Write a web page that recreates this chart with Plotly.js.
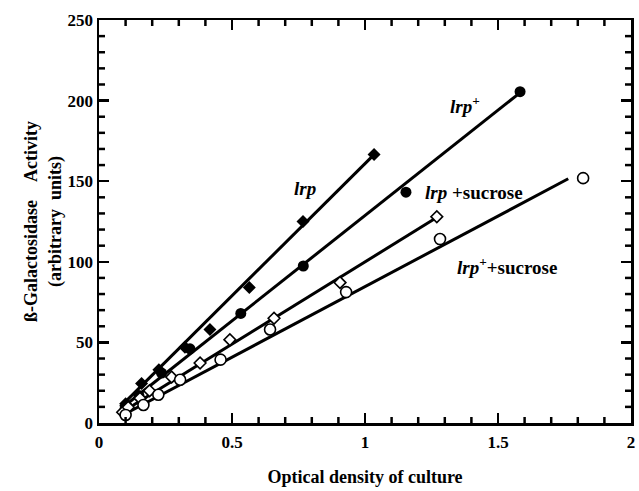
<!DOCTYPE html>
<html>
<head>
<meta charset="utf-8">
<script src="https://cdn.plot.ly/plotly-3.0.1.min.js"></script>
<style>html,body{margin:0;padding:0;background:#fff;}#chart{width:639px;height:491px;}</style>
</head>
<body>
<div id="chart"></div>
<script>
// lrp (filled diamonds)
const lrpX = [0.10, 0.16, 0.225, 0.323, 0.417, 0.565, 0.767, 1.034];
const lrpY = [12, 24.5, 33, 47, 58, 84, 125, 166.5];
// lrp+ (filled circles)
const lrpPlusX = [0.10, 0.15, 0.235, 0.342, 0.533, 0.768, 1.154, 1.583];
const lrpPlusY = [9, 17, 31, 46, 68, 97.4, 143.2, 205.5];
// lrp + sucrose (open diamonds)
const lrpSucX = [0.089, 0.11, 0.154, 0.19, 0.273, 0.38, 0.492, 0.658, 0.906, 1.27];
const lrpSucY = [6.7, 9.8, 15.4, 20, 28.5, 37.2, 51.7, 65, 87.1, 128];
// lrp+ + sucrose (open circles)
const lrpPlusSucX = [0.10, 0.167, 0.223, 0.305, 0.457, 0.643, 0.929, 1.282, 1.82];
const lrpPlusSucY = [5, 11.2, 17.5, 26.8, 39.3, 58, 81.2, 114.1, 151.9];
// fitted lines (end points)
const lrpFitX = [0.08, 1.034];
const lrpFitY = [10, 166.5];
const lrpPlusFitX = [0.08, 1.58];
const lrpPlusFitY = [8.5, 204.5];
const lrpSucFitX = [0.08, 1.265];
const lrpSucFitY = [6, 127];
const lrpPlusSucFitX = [0.08, 1.764];
const lrpPlusSucFitY = [4, 151.5];

// tick labels
const xTickVals = [0, 0.5, 1, 1.5, 2];
const xTickText = ['0', '0.5', '1', '1.5', '2'];
const yTickVals = [0, 50, 100, 150, 200, 250];
const yTickText = ['0', '50', '100', '150', '200', '250'];
const xMinorStep = 0.1;
const yMinorStep = 10;

const serif = 'Liberation Serif, Times New Roman, serif';
const xRange = [xTickVals[0], xTickVals[xTickVals.length - 1]];
const yRange = [yTickVals[0], yTickVals[yTickVals.length - 1]];

const W = 639, H = 491;
const margin = {l: 99, r: 8, t: 20, b: 68};
const plotW = W - margin.l - margin.r;
const plotH = H - margin.t - margin.b;

// minor tick positions (between the labelled major ticks)
function minorTicks(vals, step) {
  const lo = vals[0], hi = vals[vals.length - 1];
  const n = Math.round((hi - lo) / step);
  const out = [];
  for (let i = 1; i < n; i++) {
    const v = +(lo + i * step).toFixed(6);
    if (!vals.some(m => Math.abs(m - v) < 1e-9)) out.push(v);
  }
  return out;
}
const MINOR_LEN = 6;
const fy = MINOR_LEN / plotH, fx = MINOR_LEN / plotW;
const tickLine = {color: '#000', width: 2.5};
const shapes = [];
minorTicks(xTickVals, xMinorStep).forEach(v => {
  shapes.push({type: 'line', xref: 'x', yref: 'y domain', x0: v, x1: v, y0: 0, y1: fy, line: tickLine});
  shapes.push({type: 'line', xref: 'x', yref: 'y domain', x0: v, x1: v, y0: 1, y1: 1 - fy, line: tickLine});
});
minorTicks(yTickVals, yMinorStep).forEach(v => {
  shapes.push({type: 'line', xref: 'x domain', yref: 'y', x0: 0, x1: fx, y0: v, y1: v, line: tickLine});
  shapes.push({type: 'line', xref: 'x domain', yref: 'y', x0: 1, x1: 1 - fx, y0: v, y1: v, line: tickLine});
});

function fit(x, y) {
  return {x: x, y: y, mode: 'lines', type: 'scatter', hoverinfo: 'skip',
          line: {color: '#000', width: 3}, showlegend: false};
}
function pts(x, y, symbol, size, open) {
  return {x: x, y: y, mode: 'markers', type: 'scatter', showlegend: false,
          marker: {symbol: symbol, size: size, color: open ? '#fff' : '#000',
                   line: {color: '#000', width: open ? 1.6 : 0}}};
}

const data = [
  fit(lrpFitX, lrpFitY),
  fit(lrpPlusFitX, lrpPlusFitY),
  fit(lrpSucFitX, lrpSucFitY),
  fit(lrpPlusSucFitX, lrpPlusSucFitY),
  pts(lrpX, lrpY, 'diamond', 10, false),
  pts(lrpPlusX, lrpPlusY, 'circle', 11, false),
  pts(lrpSucX, lrpSucY, 'diamond', 9, true),
  pts(lrpPlusSucX, lrpPlusSucY, 'circle', 11, true)
];

const tickFont = {family: serif, size: 17, color: '#000', weight: 'bold'};
const annFont = {family: serif, size: 19, color: '#000'};
const nb = '\u00a0';
const layout = {
  width: W, height: H,
  margin: margin,
  paper_bgcolor: '#fff', plot_bgcolor: '#fff',
  showlegend: false,
  xaxis: {
    range: xRange, tickmode: 'array', tickvals: xTickVals, ticktext: xTickText,
    ticks: 'inside', ticklen: 10, tickwidth: 2.5, tickcolor: '#000',
    showline: true, linecolor: '#000', linewidth: 2.5, mirror: 'allticks',
    showgrid: false, zeroline: false, ticklabelstandoff: 2,
    tickfont: tickFont,
    title: {text: '<b>Optical density of culture</b>', font: {family: serif, size: 18, color: '#000'}, standoff: 20}
  },
  yaxis: {
    range: yRange, tickmode: 'array', tickvals: yTickVals, ticktext: yTickText,
    ticks: 'inside', ticklen: 10, tickwidth: 2.5, tickcolor: '#000',
    showline: true, linecolor: '#000', linewidth: 2.5, mirror: 'allticks',
    showgrid: false, zeroline: false, ticklabelstandoff: 0,
    tickfont: tickFont,
    title: {text: '<b>ß-Galactosidase' + nb + nb + nb + nb + 'Activity</b><br><b>(arbitrary' + nb + ' units)</b>',
            font: {family: serif, size: 18, color: '#000'}, standoff: 2}
  },
  shapes: shapes,
  annotations: [
    {x: 0.774, y: 145.3, text: '<b><i>lrp</i></b>', showarrow: false, font: annFont},
    {x: 1.376, y: 197, text: '<b><i>lrp</i><sup>+</sup></b>', showarrow: false, font: annFont},
    {x: 1.408, y: 143.1, text: '<b><i>lrp</i> +sucrose</b>', showarrow: false, font: annFont},
    {x: 1.532, y: 97.3, text: '<b><i>lrp</i><sup>+</sup>+sucrose</b>', showarrow: false, font: annFont}
  ]
};

Plotly.newPlot('chart', data, layout, {staticPlot: true, displayModeBar: false});
</script>
</body>
</html>
